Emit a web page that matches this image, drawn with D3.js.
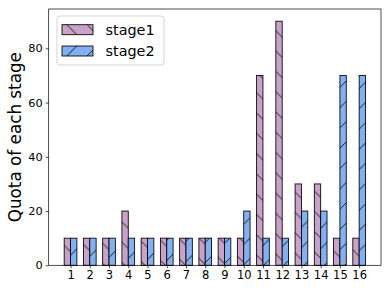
<!DOCTYPE html>
<html><head><meta charset="utf-8">
<script src="https://cdn.jsdelivr.net/npm/d3@7"></script>
<style>body{margin:0;background:#fff}</style>
</head><body><svg id="c" width="390" height="293" xmlns="http://www.w3.org/2000/svg"></svg>
<script>
const categories = ["1","2","3","4","5","6","7","8","9","10","11","12","13","14","15","16"];
const stage1 = [10,10,10,20,10,10,10,10,10,10,70,90,30,30,10,10];
const stage2 = [10,10,10,10,10,10,10,10,10,20,10,10,20,20,70,70];
const seriesNames = ["stage1","stage2"];
const seriesColors = ["#C8A2C8","#82B0F0"];
const yTicks = [0,20,40,60,80];

const svg = d3.select("#c");
const L = 48.7, R = 381, T = 9, B = 265.3;
const W = 0.33;
const n = categories.length;
const pad = 0.05 * (n - 1 + 0.7);
const x = d3.scaleLinear().domain([-0.35 - pad, n - 1 + 0.35 + pad]).range([L, R]);
const yMax = d3.max(stage1.concat(stage2)) * 1.05;
const y = d3.scaleLinear().domain([0, yMax]).range([B, T]);

// hatch patterns (screen-space, 45deg)
const P = 20.3;
const defs = svg.append("defs");
function hatch(id, dir, c) {
  const p = defs.append("pattern").attr("id", id).attr("patternUnits", "userSpaceOnUse")
    .attr("width", P).attr("height", P);
  let d = "";
  for (let k = -2; k <= 2; k++) {
    if (dir === "back") {
      d += `M${-2},${-2 + c + k*P}L${P+2},${P + 2 + c + k*P}`;
    } else {
      d += `M${-2},${2 + c + k*P}L${P+2},${-P - 2 + c + k*P}`;
    }
  }
  p.append("path").attr("d", d).attr("stroke", "#000").attr("stroke-width", 0.85).attr("fill", "none");
}
hatch("h1", "back", 18.8);
hatch("h2", "fwd", 1);
const hatchIds = ["url(#h1)", "url(#h2)"];

const series = [stage1, stage2];
series.forEach((vals, s) => {
  const g = svg.append("g");
  const sel = g.selectAll("g").data(vals).join("g");
  const x0 = (d, i) => s === 0 ? x(i - W) : x(i);
  const bw = x(W) - x(0);
  sel.append("rect").attr("x", x0).attr("y", d => y(d)).attr("width", bw)
    .attr("height", d => y(0) - y(d)).attr("fill", seriesColors[s]);
  sel.append("rect").attr("x", x0).attr("y", d => y(d)).attr("width", bw)
    .attr("height", d => y(0) - y(d)).attr("fill", hatchIds[s]);
  sel.append("rect").attr("x", x0).attr("y", d => y(d)).attr("width", bw)
    .attr("height", d => y(0) - y(d)).attr("fill", "none").attr("stroke", "#000").attr("stroke-width", 0.85);
});

// axes
const font = "DejaVu Sans, sans-serif";
const yAxis = d3.axisLeft(y).tickValues(yTicks).tickSize(3).tickPadding(3).tickSizeOuter(0);
const ya = svg.append("g").attr("transform", `translate(${L},0)`).call(yAxis);
ya.select(".domain").remove();
ya.selectAll("text").attr("font-family", font).attr("font-size", 11.3).attr("fill", "#000");
ya.selectAll("line").attr("stroke", "#000").attr("stroke-width", 0.7);

const xAxis = d3.axisBottom(x).tickValues(d3.range(n)).tickFormat(i => categories[i]).tickSize(3).tickPadding(3).tickSizeOuter(0);
const xa = svg.append("g").attr("transform", `translate(0,${B})`).call(xAxis);
xa.select(".domain").remove();
xa.selectAll("text").attr("font-family", font).attr("font-size", 11.5).attr("fill", "#000");
xa.selectAll("line").attr("stroke", "#000").attr("stroke-width", 0.7);

// frame
svg.append("rect").attr("x", L).attr("y", T).attr("width", R - L).attr("height", B - T)
  .attr("fill", "none").attr("stroke", "#000").attr("stroke-width", 0.7);

// y label
svg.append("text").attr("transform", `translate(21,${(T + B) / 2}) rotate(-90)`)
  .attr("text-anchor", "middle").attr("font-family", font).attr("font-size", 16.8).text("Quota of each stage");

// legend
const lg = svg.append("g");
lg.append("rect").attr("x", 57).attr("y", 16).attr("width", 107).attr("height", 49).attr("rx", 3)
  .attr("fill", "#fff").attr("fill-opacity", 0.8).attr("stroke", "#cccccc").attr("stroke-width", 0.85);
const ly = [24.7, 46];
seriesNames.forEach((nm, s) => {
  lg.append("rect").attr("x", 62).attr("y", ly[s]).attr("width", 31).attr("height", 10).attr("fill", seriesColors[s]);
  lg.append("rect").attr("x", 62).attr("y", ly[s]).attr("width", 31).attr("height", 10).attr("fill", hatchIds[s]);
  lg.append("rect").attr("x", 62).attr("y", ly[s]).attr("width", 31).attr("height", 10).attr("fill", "none")
    .attr("stroke", "#000").attr("stroke-width", 0.85);
  lg.append("text").attr("x", 105.5).attr("y", ly[s] + 10.3).attr("font-family", font).attr("font-size", 14.4).text(nm);
});
</script></body></html>
